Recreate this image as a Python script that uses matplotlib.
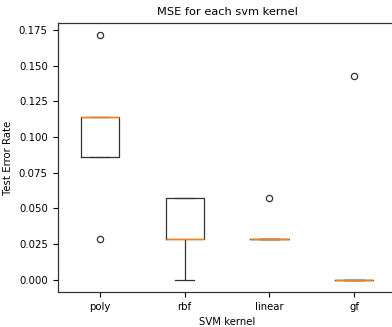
import matplotlib
matplotlib.use("Agg")
import matplotlib.pyplot as plt

kernels = ["poly", "rbf", "linear", "gf"]
poly = [0.0286, 0.0857, 0.1143, 0.1143, 0.1714]
rbf = [0.0, 0.0286, 0.0286, 0.0571, 0.0571]
linear = [0.0286, 0.0286, 0.0286, 0.0286, 0.0571]
gf = [0.0, 0.0, 0.0, 0.0, 0.1429]

plt.rcParams["font.size"] = 7.3

fig = plt.figure(figsize=(3.92, 3.27), dpi=100)
ax = fig.add_axes([0.1467, 0.107, 0.865, 0.823])
ax.boxplot([poly, rbf, linear, gf], tick_labels=kernels,
           boxprops=dict(linewidth=0.9, color="#333333"),
           whiskerprops=dict(linewidth=0.9, color="#333333"),
           capprops=dict(linewidth=0.9, color="#333333"),
           medianprops=dict(linewidth=1.0),
           flierprops=dict(markersize=4.5, markeredgewidth=0.9,
                           markeredgecolor="#333333"))
ax.set_title("MSE for each svm kernel", fontsize=8.2)
ax.set_ylabel("Test Error Rate")
ax.set_xlabel("SVM kernel")
for s in ax.spines.values():
    s.set_linewidth(0.9)
    s.set_color("#333333")

fig.savefig("out.png", dpi=100)
